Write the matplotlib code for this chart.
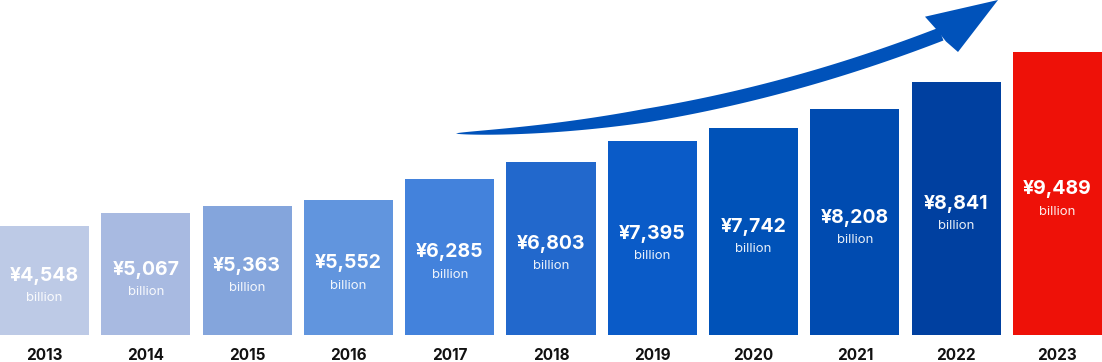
import numpy as np
from matplotlib import pyplot as plt
from matplotlib import transforms
from matplotlib.patches import Polygon

plt.rcParams['font.family'] = ['Inter', 'DejaVu Sans']

years = ['2013', '2014', '2015', '2016', '2017', '2018', '2019', '2020', '2021', '2022', '2023']
values = [4548, 5067, 5363, 5552, 6285, 6803, 7395, 7742, 8208, 8841, 9489]
bar_colors = ['#BDCAE6', '#A8BAE1', '#84A5DC', '#6195DE', '#4382DC', '#2268CC',
              '#0A5BC8', '#0052B8', '#004BB0', '#0040A0', '#EE1108']

# the bars grow faster than the numbers, roughly with the square of the value
base_value = -4776
top_value = 10538


def forward(v):
    v = np.asarray(v, dtype=float)
    return np.sign(v) * v ** 2


def inverse(f):
    f = np.asarray(f, dtype=float)
    return np.sign(f) * np.sqrt(np.abs(f))


fig = plt.figure(figsize=(11.02, 3.62), dpi=100)
ax = fig.add_axes([0, 27.5 / 362, 1, 334.5 / 362])
ax.set_yscale('function', functions=(forward, inverse))

x = np.arange(len(years))
heights = np.array(values) - base_value
ax.bar(x, heights, bottom=base_value, width=0.8786, color=bar_colors)

ax.set_xlim(-0.4393, len(years) - 1 + 0.4393)
ax.set_ylim(base_value, top_value)

for i, v in enumerate(values):
    mid = float(inverse((forward(base_value) + forward(v)) / 2))
    ax.annotate('¥{:,}'.format(v), xy=(i, mid), xytext=(0, 3), textcoords='offset points',
                ha='center', va='center', fontsize=14, fontweight='bold', color='white')
    ax.annotate('billion', xy=(i, mid), xytext=(0, -13), textcoords='offset points',
                ha='center', va='center', fontsize=9.5, color='white', alpha=0.92)

ax.set_xticks(x)
ax.set_xticklabels(years, fontsize=11, fontweight='bold', color='#111111')
ax.tick_params(axis='x', length=0, pad=9.5)
ax.set_yticks([])
ax.yaxis.set_minor_locator(plt.NullLocator())
for side in ['top', 'right', 'left', 'bottom']:
    ax.spines[side].set_visible(False)

# growth arrow, drawn in pixel units of the picture (y from top)
px = transforms.Affine2D().scale(1 / 1102, -1 / 362).translate(0, 1) + fig.transFigure
xs = np.linspace(456, 941, 200)
ys = 133.5 - 0.023 * (xs - 456) - 0.000375 * (xs - 456) ** 2
slope = -0.023 - 0.00075 * (xs - 456)
norm = np.sqrt(1 + slope ** 2)
nx, ny = -slope / norm, 1 / norm
half = 6.8 * np.clip((xs - 456) / 190, 0, 1) ** 0.6
upper = np.column_stack([xs - nx * half, ys - ny * half])
lower = np.column_stack([xs + nx * half, ys + ny * half])
body = np.vstack([upper, lower[::-1]])
fig.patches.append(Polygon(body, closed=True, transform=px, facecolor='#0052BA', edgecolor='none'))
head = [(925, 16.7), (998, 0), (958, 52), (946, 41.5), (936, 29)]
fig.patches.append(Polygon(head, closed=True, transform=px, facecolor='#0052BA', edgecolor='none'))

fig.savefig('out.png', dpi=100)
